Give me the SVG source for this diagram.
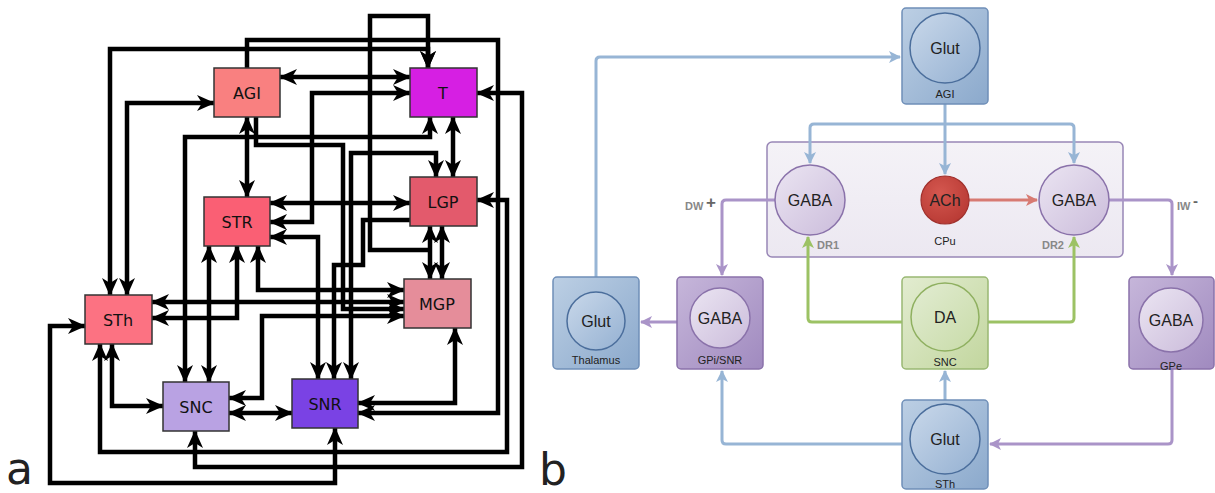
<svg xmlns="http://www.w3.org/2000/svg" width="1215" height="493" viewBox="0 0 1215 493">
<defs>
<style>
.k{fill:none;stroke:#000;stroke-width:4.5;stroke-linejoin:miter}
.ke{marker-end:url(#ka)}
.kb{marker-start:url(#ka);marker-end:url(#ka)}
.an{stroke:#333;stroke-width:1.5}
.at{font-family:"DejaVu Sans",sans-serif;font-size:16px;fill:#111;text-anchor:middle;dominant-baseline:central}
.big{font-family:"DejaVu Sans",sans-serif;font-size:44px;fill:#222}
.bl{fill:none;stroke:#97b5d5;stroke-width:3;stroke-linejoin:round;marker-end:url(#mb)}
.pl{fill:none;stroke:#aa94c8;stroke-width:3;stroke-linejoin:round;marker-end:url(#mp)}
.gl{fill:none;stroke:#9cc264;stroke-width:3;stroke-linejoin:round;marker-end:url(#mg)}
.rl{fill:none;stroke:#d77a72;stroke-width:3;marker-end:url(#mr)}
.ct{font-family:"Liberation Sans",Arial,sans-serif;font-size:16px;fill:#222;text-anchor:middle}
.bt{font-family:"Liberation Sans",Arial,sans-serif;font-size:11px;fill:#222;text-anchor:middle}
.gt{font-family:"Liberation Sans",Arial,sans-serif;font-size:11px;font-weight:bold;fill:#888}
</style>
<marker id="ka" viewBox="-20 -10 22 20" refX="0" refY="0" markerWidth="22" markerHeight="20" markerUnits="userSpaceOnUse" orient="auto-start-reverse"><path d="M1,0 L-17,-8 L-12,0 L-17,8 Z" fill="#000"/></marker>
<marker id="mb" viewBox="-14 -8 16 16" refX="0" refY="0" markerWidth="16" markerHeight="16" markerUnits="userSpaceOnUse" orient="auto"><path d="M1,0 L-11,-6 L-8,0 L-11,6 Z" fill="#97b5d5"/></marker>
<marker id="mp" viewBox="-14 -8 16 16" refX="0" refY="0" markerWidth="16" markerHeight="16" markerUnits="userSpaceOnUse" orient="auto"><path d="M1,0 L-11,-6 L-8,0 L-11,6 Z" fill="#aa94c8"/></marker>
<marker id="mg" viewBox="-14 -8 16 16" refX="0" refY="0" markerWidth="16" markerHeight="16" markerUnits="userSpaceOnUse" orient="auto"><path d="M1,0 L-11,-6 L-8,0 L-11,6 Z" fill="#9cc264"/></marker>
<marker id="mr" viewBox="-14 -8 16 16" refX="0" refY="0" markerWidth="16" markerHeight="16" markerUnits="userSpaceOnUse" orient="auto"><path d="M1,0 L-11,-6 L-8,0 L-11,6 Z" fill="#d77a72"/></marker>
<linearGradient id="gBlue" x1="0" y1="0" x2="1" y2="1"><stop offset="0" stop-color="#bccfe4"/><stop offset="1" stop-color="#8ba9cc"/></linearGradient>
<linearGradient id="gBlueC" x1="0" y1="0" x2="1" y2="1"><stop offset="0" stop-color="#c9d8ea"/><stop offset="1" stop-color="#95b1d2"/></linearGradient>
<linearGradient id="gPur" x1="0" y1="0" x2="1" y2="1"><stop offset="0" stop-color="#c6b6da"/><stop offset="1" stop-color="#a08abf"/></linearGradient>
<linearGradient id="gPurC" x1="0" y1="0" x2="1" y2="1"><stop offset="0" stop-color="#ebe5f2"/><stop offset="1" stop-color="#cbbcdb"/></linearGradient>
<linearGradient id="gGrn" x1="0" y1="0" x2="1" y2="1"><stop offset="0" stop-color="#e2ecd0"/><stop offset="1" stop-color="#c2d69e"/></linearGradient>
<linearGradient id="gGrnC" x1="0" y1="0" x2="1" y2="1"><stop offset="0" stop-color="#e2ecd2"/><stop offset="1" stop-color="#c8dba8"/></linearGradient>
<linearGradient id="gCpu" x1="0" y1="0" x2="0" y2="1"><stop offset="0" stop-color="#f4f2f7"/><stop offset="1" stop-color="#ece8f1"/></linearGradient>
<radialGradient id="gRed" cx="0.4" cy="0.35" r="0.7"><stop offset="0" stop-color="#d4574f"/><stop offset="1" stop-color="#b83a34"/></radialGradient>
</defs>
<rect width="1215" height="493" fill="#fff"/>

<!-- Panel a connectors -->
<g id="connectors-a">
<polyline class="k ke" points="247,68 247,40 498,40 498,413 358,413"/>
<polyline class="k kb" points="110,295 110,49 428,49 428,68"/>
<polyline class="k ke" points="430,250 370,250 370,16 428,16 428,68"/>
<polyline class="k kb" points="280,77 410,77"/>
<polyline class="k kb" points="410,93 312,93 312,222 270,222"/>
<polyline class="k kb" points="270,203 410,203"/>
<polyline class="k kb" points="270,237 318,237 318,379"/>
<polyline class="k kb" points="247,117 247,197"/>
<polyline class="k ke" points="256,117 256,145 343,145 343,309 404,309"/>
<polyline class="k kb" points="185,382 185,137 430,137 430,117"/>
<polyline class="k kb" points="436,177 436,153 351,153 351,379"/>
<polyline class="k kb" points="453,117 453,177"/>
<polyline class="k ke" points="410,220 363,220 363,265 334,265 334,379"/>
<polyline class="k kb" points="430,226 430,279"/>
<polyline class="k kb" points="442,226 442,279"/>
<polyline class="k kb" points="258,246 258,290 404,290"/>
<polyline class="k kb" points="152,302 404,302"/>
<polyline class="k kb" points="229,398 262,398 262,316 404,316"/>
<polyline class="k kb" points="237,246 237,318 152,318"/>
<polyline class="k kb" points="209,246 209,382"/>
<polyline class="k kb" points="127,295 127,103 214,103"/>
<polyline class="k kb" points="112,344 112,406 163,406"/>
<polyline class="k kb" points="100,344 100,452 507,452 507,200 477,200"/>
<polyline class="k kb" points="85,326 50,326 50,483 335,483 335,428"/>
<polyline class="k kb" points="477,93 522,93 522,467 195,467 195,431"/>
<polyline class="k kb" points="229,413 292,413"/>
<polyline class="k kb" points="455,328 455,403 358,403"/>
</g>

<!-- Panel a nodes -->
<g id="a-AGI"><rect class="an" x="214" y="68" width="66" height="49" fill="#f98080"/><text class="at" x="247" y="93">AGI</text></g>
<g id="a-T"><rect class="an" x="410" y="68" width="67" height="49" fill="#d61fe3"/><text class="at" x="443" y="93">T</text></g>
<g id="a-LGP"><rect class="an" x="410" y="177" width="67" height="49" fill="#e35a6c"/><text class="at" x="443" y="202">LGP</text></g>
<g id="a-STR"><rect class="an" x="204" y="197" width="66" height="49" fill="#fa5f74"/><text class="at" x="237" y="222">STR</text></g>
<g id="a-MGP"><rect class="an" x="404" y="279" width="67" height="49" fill="#e58d9a"/><text class="at" x="437" y="304">MGP</text></g>
<g id="a-STh"><rect class="an" x="85" y="295" width="67" height="49" fill="#fc7282"/><text class="at" x="118" y="320">STh</text></g>
<g id="a-SNC"><rect class="an" x="163" y="382" width="66" height="49" fill="#b9a2e3"/><text class="at" x="196" y="407">SNC</text></g>
<g id="a-SNR"><rect class="an" x="292" y="379" width="66" height="49" fill="#7a42e4"/><text class="at" x="325" y="404">SNR</text></g>
<text class="big" x="6" y="484">a</text>

<!-- Panel b -->
<g id="b-CPu"><rect x="767" y="142" width="356" height="115" rx="5" fill="url(#gCpu)" stroke="#9886b6" stroke-width="1.5"/><text class="bt" x="945" y="245">CPu</text></g>

<g id="connectors-b">
<path class="bl" d="M596,277 V61 Q596,57 600,57 H900"/>
<path class="bl" d="M945,104 V174"/>
<path class="bl" d="M945,124 H814 Q810,124 810,128 V163"/>
<path class="bl" d="M945,124 H1070 Q1074,124 1074,128 V163"/>
<path class="rl" d="M969,200 H1037"/>
<path class="pl" d="M775,200 H726 Q722,200 722,204 V275"/>
<path class="pl" d="M677,322 H641"/>
<path class="pl" d="M1109,200 H1168 Q1172,200 1172,204 V275"/>
<path class="pl" d="M1172,369 V440 Q1172,444 1168,444 H990"/>
<path class="bl" d="M902,444 H726 Q722,444 722,440 V371"/>
<path class="bl" d="M945,400 V371"/>
<path class="gl" d="M902,322 H812 Q808,322 808,318 V237"/>
<path class="gl" d="M988,322 H1070 Q1074,322 1074,318 V237"/>
</g>

<g id="b-DR1"><circle cx="810" cy="200" r="35" fill="url(#gPurC)" stroke="#8a72aa" stroke-width="1.5"/><text class="ct" x="810" y="206">GABA</text><text class="gt" x="817" y="249">DR1</text></g>
<g id="b-ACh"><circle cx="945" cy="200" r="24" fill="url(#gRed)" stroke="#a0302c" stroke-width="1.2"/><text class="ct" x="945" y="206">ACh</text></g>
<g id="b-DR2"><circle cx="1074" cy="200" r="35" fill="url(#gPurC)" stroke="#8a72aa" stroke-width="1.5"/><text class="ct" x="1074" y="206">GABA</text><text class="gt" x="1064" y="249" text-anchor="end">DR2</text></g>
<text class="gt" x="685" y="210" font-size="10" fill="#777">DW</text><text x="706" y="208" font-family="Liberation Sans,Arial,sans-serif" font-size="17" font-weight="bold" fill="#666">+</text>
<text class="gt" x="1177" y="210" font-size="10" fill="#777">IW</text><text x="1193" y="206" font-family="Liberation Sans,Arial,sans-serif" font-size="15" font-weight="bold" fill="#666">-</text>

<g id="b-AGI"><rect x="902" y="8" width="86" height="96" rx="4" fill="url(#gBlue)" stroke="#6f8fb8" stroke-width="1.5"/><circle cx="945" cy="48" r="35" fill="url(#gBlueC)" stroke="#4b6e9c" stroke-width="1.5"/><text class="ct" x="945" y="54">Glut</text><text class="bt" x="945" y="98">AGI</text></g>
<g id="b-Thalamus"><rect x="553" y="277" width="86" height="92" rx="4" fill="url(#gBlue)" stroke="#6f8fb8" stroke-width="1.5"/><circle cx="596" cy="321" r="29" fill="url(#gBlueC)" stroke="#4b6e9c" stroke-width="1.5"/><text class="ct" x="596" y="327">Glut</text><text class="bt" x="596" y="364">Thalamus</text></g>
<g id="b-GPiSNR"><rect x="677" y="277" width="86" height="92" rx="4" fill="url(#gPur)" stroke="#8a72aa" stroke-width="1.5"/><circle cx="720" cy="318" r="30" fill="url(#gPurC)" stroke="#8a72aa" stroke-width="1.5"/><text class="ct" x="720" y="324">GABA</text><text class="bt" x="720" y="364">GPi/SNR</text></g>
<g id="b-SNC"><rect x="902" y="277" width="86" height="92" rx="4" fill="url(#gGrn)" stroke="#99b873" stroke-width="1.5"/><circle cx="945" cy="317" r="34" fill="url(#gGrnC)" stroke="#8fb060" stroke-width="1.5"/><text class="ct" x="945" y="323">DA</text><text class="bt" x="945" y="366">SNC</text></g>
<g id="b-GPe"><rect x="1129" y="277" width="85" height="92" rx="4" fill="url(#gPur)" stroke="#8a72aa" stroke-width="1.5"/><circle cx="1171" cy="320" r="32" fill="url(#gPurC)" stroke="#8a72aa" stroke-width="1.5"/><text class="ct" x="1171" y="326">GABA</text><text class="bt" x="1171" y="370">GPe</text></g>
<g id="b-STh"><rect x="902" y="400" width="86" height="89" rx="4" fill="url(#gBlue)" stroke="#6f8fb8" stroke-width="1.5"/><circle cx="945" cy="439" r="35" fill="url(#gBlueC)" stroke="#4b6e9c" stroke-width="1.5"/><text class="ct" x="945" y="445">Glut</text><text class="bt" x="945" y="488">STh</text></g>
<text class="big" x="539" y="485" font-family="Liberation Sans,Arial,sans-serif">b</text>
</svg>
